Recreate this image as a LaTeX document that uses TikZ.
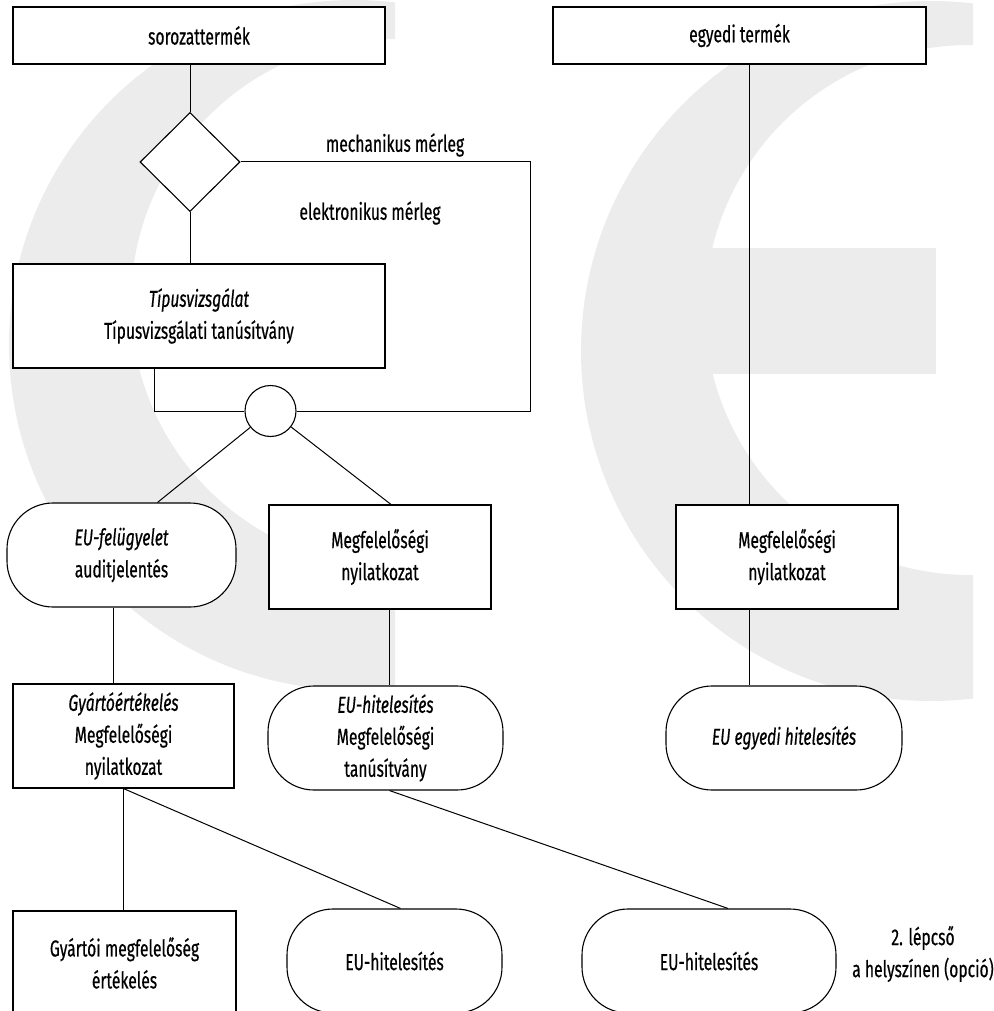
\documentclass[tikz,border=0pt]{standalone}
\usepackage{fontspec}
\setmainfont{Fira Sans}[FakeStretch=0.68, FakeBold=0.5]
\usetikzlibrary{shapes.geometric, calc, positioning}
\definecolor{cegray}{RGB}{236,236,236}

\begin{document}
\begin{tikzpicture}[x=1pt,y=-1pt,
		every node/.style={font=\fontsize{23}{32}\selectfont},
		doboz/.style={draw,fill=white,line width=1.1pt,align=center,inner sep=0pt,minimum height=104pt},
		kerek/.style={doboz,rounded corners=46pt},
		felirat/.style={align=center,inner sep=0pt},
		vonal/.style={line width=1pt}]
		\useasboundingbox (0,0) rectangle (993,1011);
		
		% CE jel a hattérben
		\begin{scope}
			\clip (0,0) rectangle (395,1011);
			\fill[cegray,even odd rule] (354,345) circle[radius=345pt] (395,303) circle[radius=264pt];
		\end{scope}
		\begin{scope}
			\clip (0,0) rectangle (973,1011);
			\fill[cegray,even odd rule] (931,351) circle[radius=350pt] (970,310) circle[radius=265pt];
			\fill[cegray] (700,248) rectangle (936,374);
		\end{scope}
		
		\node[doboz,minimum width=372pt,minimum height=57pt] (sor) at (199,35.5) {sorozattermék};
		\node[doboz,minimum width=373pt,minimum height=57pt] (egy) at (739.5,35.5) {egyedi termék};
		\node[draw,diamond,fill=white,line width=1.1pt,minimum width=100pt,minimum height=99pt,inner sep=0pt] (val) at (190,162) {};
		\node[doboz,minimum width=372pt] (tip) at (199,316) {\textit{Típusvizsgálat}\\Típusvizsgálati tanúsítvány};
		\node[draw,circle,fill=white,line width=1.1pt,minimum size=51pt,inner sep=0pt] (kor) at (270.5,411) {};
		\node[kerek,minimum width=229pt] (fel) at (121.5,555) {\textit{EU-felügyelet}\\auditjelentés};
		\node[doboz,minimum width=222pt] (mn1) at (380,557) {Megfelelőségi\\nyilatkozat};
		\node[doboz,minimum width=221pt] (gy) at (123.5,736) {\textit{Gyártóértékelés}\\Megfelelőségi\\nyilatkozat};
		\node[kerek,minimum width=235pt] (hit) at (385.5,738) {\textit{EU-hitelesítés}\\Megfelelőségi\\tanúsítvány};
		\node[doboz,minimum width=222pt] (mn2) at (787,557) {Megfelelőségi\\nyilatkozat};
		\node[kerek,minimum width=236pt] (egyh) at (784,738) {\textit{EU egyedi hitelesítés}};
		\node[doboz,minimum width=223pt] (gym) at (124.5,963) {Gyártói megfelelőség\\értékelés};
		\node[kerek,minimum width=215pt] (hit2) at (394.5,961) {EU-hitelesítés};
		\node[kerek,minimum width=254pt] (hit3) at (709,961) {EU-hitelesítés};
		\node[felirat] (lep) at (923,954) {2. lépcső\\a helyszínen (opció)};
		\node[felirat] (mech) at (395,145) {mechanikus mérleg};
		\node[felirat] (elek) at (370,213) {elektronikus mérleg};
		\coordinate (sarok) at (530,411);
		
		\draw[vonal] (val.north) -- (val.north |- sor.south);
		\draw[vonal] (val.south) -- (val.south |- tip.north);
		\draw[vonal] (val.east) -| (sarok) -- (kor.east);
		\draw[vonal] ([xshift=-45]tip.south) |- (kor.west);
		\draw[vonal] (kor) -- ([xshift=36]fel.north);
		\draw[vonal] (kor) -- ([xshift=11]mn1.north);
		\draw[vonal] ([xshift=-8]fel.south) -- ([xshift=-8]fel.south |- gy.north);
		\draw[vonal] ([xshift=9]mn1.south) -- ([xshift=9]mn1.south |- hit.north);
		\draw[vonal] ([xshift=10]egy.south) -- ([xshift=10]egy.south |- mn2.north);
		\draw[vonal] ([xshift=-38]mn2.south) -- ([xshift=-38]mn2.south |- egyh.north);
		\draw[vonal] (gy.south) -- (gy.south |- gym.north);
		\draw[vonal] (gy.south) -- ([xshift=6]hit2.north);
		\draw[vonal] ([xshift=4]hit.south) -- ([xshift=19]hit3.north);
		
\end{tikzpicture}
\end{document}
